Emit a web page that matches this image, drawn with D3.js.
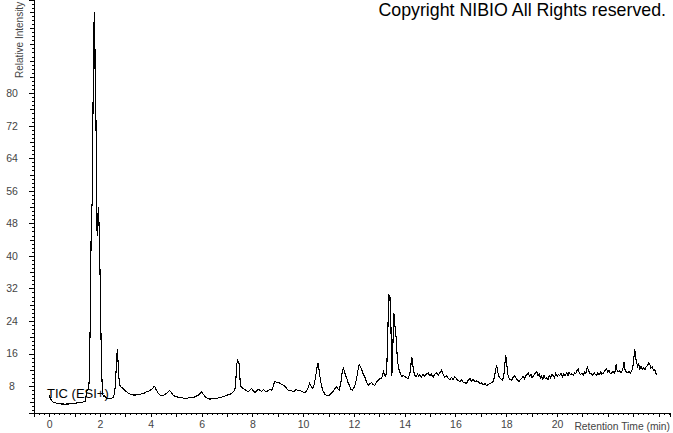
<!DOCTYPE html>
<html>
<head>
<meta charset="utf-8">
<script src="https://cdn.jsdelivr.net/npm/d3@7"></script>
<style>
  html, body { margin: 0; padding: 0; background: #fff; }
  svg { display: block; }
  text { font-family: "Liberation Sans", Arial, sans-serif; }
</style>
</head>
<body>
<svg id="chart" width="673" height="433"></svg>
<script>
// ---- data: [retention time (min), relative intensity] ----
const earlyBaseline = [[0.00,5.8],[0.04,5.0],[0.09,4.4],[0.15,4.1],[0.22,3.9],[0.30,3.8],[0.38,3.7],[0.46,3.6],[0.54,3.6],[0.62,3.5],[0.70,3.6],[0.78,3.6],[0.86,3.7],[0.94,3.8],[1.02,3.7],[1.10,3.9],[1.18,3.9],[1.26,4.0],[1.34,4.1],[1.42,4.2],[1.45,5.5],[1.47,6.9],[1.51,7.0],[1.55,7.3]];
const mainPeak = [[1.57,9],[1.59,14],[1.61,22],[1.63,33],[1.65,45],[1.67,51],[1.69,53],[1.71,66],[1.73,80],[1.75,88],[1.77,100],[1.78,97],[1.79,86],[1.80,92],[1.81,82],[1.82,84],[1.83,80],[1.84,74],[1.86,60],[1.88,47],[1.89,45],[1.91,48],[1.93,52],[1.95,50],[1.97,46],[1.99,40],[2.02,28],[2.05,16],[2.08,9],[2.11,6.0],[2.14,5.4]];
const segment2to8 = [[2.18,5.6],[2.22,5.2],[2.27,5.0],[2.33,4.9],[2.40,5.0],[2.47,5.0],[2.53,5.3],[2.58,6.5],[2.62,10],[2.65,14],[2.68,17],[2.70,15.5],[2.73,11],[2.77,8.5],[2.81,7.8],[2.86,7.6],[2.91,7.4],[2.97,7.0],[3.05,6.6],[3.13,6.2],[3.22,5.9],[3.31,5.8],[3.40,5.8],[3.49,5.9],[3.57,6.0],[3.66,6.1],[3.75,6.3],[3.84,6.6],[3.93,6.8],[4.00,7.1],[4.07,7.4],[4.12,7.9],[4.16,7.8],[4.22,7.0],[4.29,6.3],[4.36,5.8],[4.43,5.6],[4.52,5.8],[4.62,6.2],[4.70,6.7],[4.75,6.9],[4.81,6.4],[4.88,5.8],[4.97,5.4],[5.06,5.3],[5.15,5.2],[5.24,5.1],[5.33,5.0],[5.41,5.0],[5.50,5.1],[5.59,5.1],[5.67,5.2],[5.76,5.4],[5.85,5.7],[5.94,6.1],[6.00,6.6],[6.06,6.0],[6.13,5.5],[6.22,5.0],[6.33,4.8],[6.42,4.9],[6.50,4.9],[6.59,5.0],[6.68,5.1],[6.76,5.2],[6.85,5.4],[6.94,5.6],[7.03,5.8],[7.12,6.0],[7.22,6.4],[7.31,7.0],[7.35,9.5],[7.38,12.8],[7.41,14.4],[7.45,14.0],[7.48,13.4],[7.51,10.0],[7.54,8.0],[7.59,7.6],[7.64,7.4]];
const segment8to14 = [[7.70,7.1],[7.77,6.9],[7.84,6.6],[7.90,7.0],[7.97,7.4],[8.03,6.9],[8.10,6.4],[8.17,6.8],[8.23,7.2],[8.30,7.0],[8.37,6.7],[8.44,7.1],[8.50,6.8],[8.56,6.6],[8.62,6.9],[8.69,7.2],[8.76,7.0],[8.82,7.8],[8.87,9.0],[8.92,9.1],[8.98,8.8],[9.04,8.9],[9.09,8.6],[9.15,8.4],[9.22,8.2],[9.28,8.0],[9.35,7.4],[9.41,7.0],[9.48,6.8],[9.54,6.9],[9.61,6.6],[9.68,6.9],[9.74,7.2],[9.80,6.8],[9.87,7.0],[9.93,6.7],[10.00,6.5],[10.07,6.4],[10.13,6.8],[10.20,7.6],[10.25,8.7],[10.30,8.2],[10.36,7.4],[10.42,8.0],[10.47,9.6],[10.52,11.4],[10.56,13.0],[10.59,13.6],[10.63,12.0],[10.67,10.0],[10.72,8.2],[10.79,6.7],[10.86,6.0],[10.93,5.7],[10.99,5.6],[11.06,5.9],[11.13,6.3],[11.19,6.7],[11.26,7.4],[11.32,7.8],[11.37,7.3],[11.42,7.1],[11.48,8.5],[11.53,11.0],[11.58,12.4],[11.62,11.8],[11.67,10.5],[11.71,10.2],[11.76,9.0],[11.82,8.2],[11.88,7.2],[11.94,7.0],[12.00,7.6],[12.04,8.2],[12.10,9.6],[12.15,11.5],[12.19,12.9],[12.22,13.2],[12.26,12.6],[12.30,12.2],[12.36,11.0],[12.43,10.2],[12.50,9.0],[12.56,8.2],[12.63,8.6],[12.70,8.8],[12.76,8.3],[12.83,8.2],[12.89,9.0],[12.96,9.5],[13.02,9.8],[13.09,9.9],[13.13,10.8],[13.16,11.6],[13.21,10.6],[13.25,10.3],[13.29,11.9],[13.33,19],[13.36,28],[13.38,30.5],[13.40,29],[13.43,30],[13.45,27],[13.47,18],[13.49,10.4],[13.51,12],[13.54,19],[13.57,25.9],[13.59,25.5],[13.61,23],[13.64,22],[13.67,19],[13.71,15],[13.75,12.7],[13.81,11.4],[13.88,10.3],[13.94,10.6],[14.01,10.3],[14.07,10.0],[14.14,9.9],[14.19,10.8],[14.23,12.0],[14.27,15.0],[14.30,14.8],[14.34,12.0],[14.39,10.8],[14.44,10.3]];
const segment14to19 = [[14.50,10.9],[14.55,10.4],[14.60,10.8],[14.66,10.2],[14.72,10.9],[14.80,10.4],[14.86,11.0],[14.93,11.2],[14.99,10.5],[15.05,10.9],[15.12,10.2],[15.18,10.8],[15.25,11.3],[15.32,10.6],[15.38,11.2],[15.45,11.9],[15.51,10.9],[15.58,10.2],[15.64,10.6],[15.71,9.9],[15.78,9.5],[15.84,10.1],[15.91,9.6],[15.98,10.3],[16.04,9.8],[16.10,9.4],[16.17,9.1],[16.24,9.5],[16.30,9.0],[16.37,8.8],[16.44,8.7],[16.50,9.4],[16.57,9.9],[16.63,9.2],[16.70,9.6],[16.77,9.0],[16.84,9.3],[16.90,9.0],[16.97,8.6],[17.03,8.8],[17.09,8.3],[17.16,8.6],[17.22,8.2],[17.29,8.3],[17.35,8.6],[17.42,8.8],[17.49,9.1],[17.54,10.5],[17.58,12.0],[17.62,13.1],[17.66,11.6],[17.72,10.2],[17.78,9.8],[17.84,9.4],[17.90,10.2],[17.94,13.0],[17.98,15.6],[18.02,13.5],[18.06,11.0],[18.10,10.0],[18.16,9.6],[18.21,9.4],[18.28,10.2],[18.34,10.6],[18.40,9.8],[18.46,9.4],[18.51,9.1],[18.56,9.6]];
const segment19to24 = [[18.62,10.0],[18.67,10.4],[18.72,9.8],[18.77,10.6],[18.82,10.9],[18.87,11.2],[18.92,10.4],[18.97,10.9],[19.02,10.0],[19.06,10.4],[19.11,10.9],[19.16,11.2],[19.20,11.6],[19.25,10.6],[19.30,10.9],[19.35,10.0],[19.39,10.4],[19.44,9.6],[19.49,10.6],[19.54,9.8],[19.59,10.0],[19.64,9.5],[19.69,10.6],[19.74,10.0],[19.80,10.9],[19.85,10.6],[19.90,10.0],[19.95,11.1],[20.00,10.4],[20.06,10.8],[20.11,10.6],[20.16,11.2],[20.21,10.2],[20.27,11.0],[20.32,10.6],[20.38,11.2],[20.43,10.6],[20.48,11.4],[20.53,10.8],[20.59,11.0],[20.64,10.6],[20.69,11.3],[20.74,11.0],[20.79,11.9],[20.83,12.2],[20.88,11.2],[20.93,10.8],[20.98,11.2],[21.03,10.6],[21.08,11.4],[21.13,11.0],[21.19,12.7],[21.24,11.8],[21.29,11.2],[21.36,11.0],[21.41,10.6],[21.46,11.3],[21.51,10.8],[21.56,10.7],[21.61,11.3],[21.66,10.8],[21.72,11.4],[21.77,10.9],[21.82,11.2],[21.87,11.6],[21.92,12.0],[21.95,12.3],[22.00,11.4],[22.05,11.8],[22.10,11.0],[22.15,11.2],[22.20,11.6],[22.25,11.2],[22.30,11.8],[22.33,13.5],[22.36,12.0],[22.41,11.5],[22.46,11.8],[22.51,11.3],[22.56,11.7],[22.61,12.6],[22.64,14.0],[22.68,12.0],[22.73,11.4],[22.79,11.2],[22.84,11.6],[22.89,11.2],[22.94,11.6],[22.98,12.5],[23.02,14.5],[23.06,17.2],[23.10,15.0],[23.14,13.6],[23.18,12.8],[23.22,13.4],[23.26,12.2],[23.31,12.8],[23.36,12.2],[23.41,12.5],[23.46,12.0],[23.51,12.8],[23.56,13.0],[23.61,13.6],[23.66,13.2],[23.70,12.4],[23.75,12.8],[23.80,11.8],[23.85,12.0],[23.89,11.2],[23.93,10.8]];

const yTickLabels = [8, 16, 24, 32, 40, 48, 56, 64, 72, 80];
const xTickLabels = [0, 2, 4, 6, 8, 10, 12, 14, 16, 18, 20];
const traceLabel = "TIC (ESI+)";
const xAxisTitle = "Retention Time (min)";
const yAxisTitle = "Relative Intensity";
const copyrightText = "Copyright NIBIO All Rights reserved.";

const trace = [].concat(earlyBaseline, mainPeak, segment2to8, segment8to14, segment14to19, segment19to24);

// ---- layout ----
const svg = d3.select("#chart");
const x = d3.scaleLinear().domain([-0.6, 24.45]).range([34, 670]);
const y = d3.scaleLinear().domain([1.45, 102.9]).range([412.7, 0]);
const axisColor = "#000";
const labelColor = "#444";

const yMinor = d3.range(2, 103, 1);
const yMid = d3.range(4, 103, 4);
const xMinor = d3.range(-0.6, 24.45, 0.2).map(v => Math.round(v * 10) / 10);
const xMajor = d3.range(0, 25, 1);

// y axis
const gy = svg.append("g").attr("transform", `translate(${x.range()[0]},0)`);
gy.append("g").call(d3.axisLeft(y).tickValues(yMinor).tickSize(2).tickFormat(""));
gy.append("g").call(d3.axisLeft(y).tickValues(yMid).tickSize(4).tickFormat(""));
gy.append("g").call(d3.axisLeft(y).tickValues(yTickLabels).tickSize(5).tickFormat(d3.format("d")))
  .call(g => g.selectAll("text").attr("x", -22).attr("text-anchor", "middle")
      .attr("fill", labelColor).style("font-size", "10.5px")
      .style("font-family", '"Liberation Sans", Arial, sans-serif'));
gy.selectAll("path, line").attr("stroke", axisColor).attr("shape-rendering", "crispEdges");

// x axis
const gx = svg.append("g").attr("transform", `translate(0,${y.range()[0]})`);
gx.append("g").call(d3.axisBottom(x).tickValues(xMinor).tickSize(2).tickFormat(""));
gx.append("g").call(d3.axisBottom(x).tickValues(xMajor).tickSize(4).tickFormat(""));
gx.append("g").call(d3.axisBottom(x).tickValues(xTickLabels).tickSize(4).tickFormat(d3.format("d")))
  .call(g => g.selectAll("text").attr("y", 8).attr("fill", labelColor).style("font-size", "10.5px")
      .style("font-family", '"Liberation Sans", Arial, sans-serif'));
gx.selectAll("path, line").attr("stroke", axisColor).attr("shape-rendering", "crispEdges");

// axis titles
svg.append("text").attr("x", 670).attr("y", 429.5).attr("text-anchor", "end")
  .attr("fill", labelColor).style("font-size", "10.3px").text(xAxisTitle);
svg.append("text").attr("transform", "translate(23,78) rotate(-90)").attr("text-anchor", "start")
  .attr("fill", labelColor).style("font-size", "10px").text(yAxisTitle);

// trace
const line = d3.line().x(d => x(d[0])).y(d => y(d[1]));
svg.append("path").datum(trace).attr("d", line)
  .attr("fill", "none").attr("stroke", "#000").attr("stroke-width", 1.1)
  .attr("shape-rendering", "crispEdges");

// annotations
svg.append("text").attr("x", 47).attr("y", 397.5).attr("fill", "#000")
  .style("font-size", "13px").text(traceLabel);
svg.append("text").attr("x", 666).attr("y", 16).attr("text-anchor", "end").attr("fill", "#000")
  .style("font-size", "17.8px").text(copyrightText);
</script>
</body>
</html>
